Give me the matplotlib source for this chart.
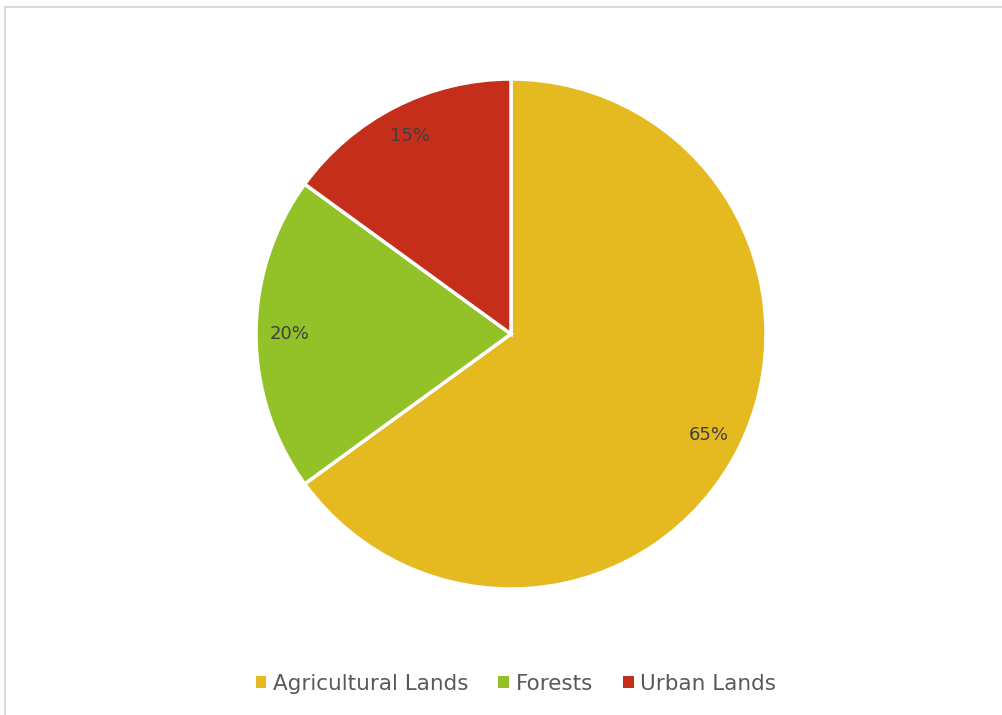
import matplotlib
matplotlib.use("Agg")
import matplotlib.pyplot as plt
from matplotlib.lines import Line2D

labels = ["Agricultural Lands", "Forests", "Urban Lands"]
shares = [65, 20, 15]
colors = ["#E5B920", "#92C227", "#C42E1A"]

plt.rcParams["font.family"] = ["DejaVu Sans"]

W, H = 1003, 715
fig = plt.figure(figsize=(W / 100, H / 100), dpi=100)

# light grey chart frame (cut off at right and bottom)
fig.add_artist(Line2D([5.5 / W, 1], [1 - 6.5 / H] * 2, color="#d9d9d9", lw=1.5))
fig.add_artist(Line2D([5.5 / W] * 2, [0, 1 - 6.5 / H], color="#d9d9d9", lw=1.5))

# pie centred at (511, 334) px, radius 255 px
ax = fig.add_axes([256 / W, 126 / H, 510 / W, 510 / H])
wedges, texts, autotexts = ax.pie(
    shares, colors=colors, startangle=90, counterclock=False,
    autopct="%d%%", pctdistance=0.87,
    wedgeprops=dict(edgecolor="white", linewidth=2.5),
    textprops=dict(color="#404040", fontsize=13),
)
ax.set_xlim(-1, 1)
ax.set_ylim(-1, 1)
ax.set_aspect("equal")

leg = fig.legend(wedges, labels, loc="center", bbox_to_anchor=(516 / W, 1 - 684 / H),
                 ncol=3, frameon=False, fontsize=15.5, handlelength=0.5, handleheight=0.5,
                 handletextpad=0.3, columnspacing=1.4, labelcolor="#595959")
for h in leg.legend_handles:
    h.set_edgecolor("none")

fig.savefig("out.png", dpi=100)
